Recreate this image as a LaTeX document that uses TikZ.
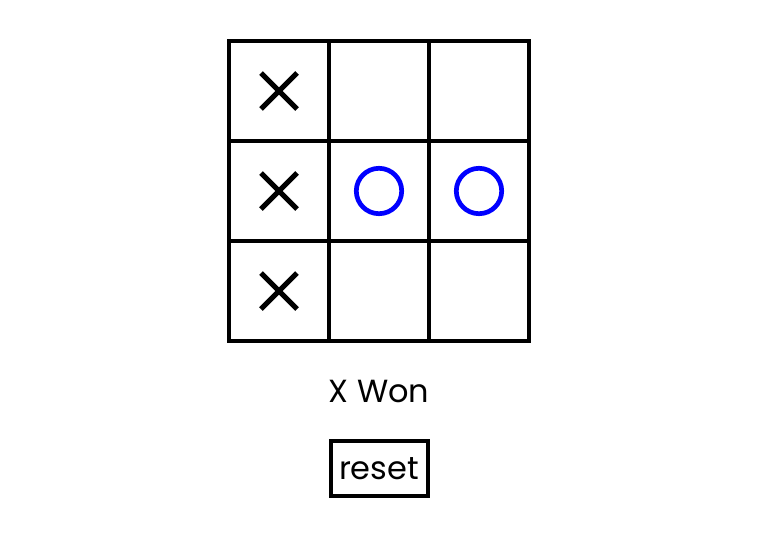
\documentclass[tikz,border=0pt]{standalone}
\usepackage{fontspec}
\setmainfont{Poppins}
\tikzset{
  cross/.style={line width=5pt},
  ring/.style={blue, line width=4.7pt},
}
\begin{document}
\begin{tikzpicture}[x=1pt, y=-1pt]
\useasboundingbox (0, 0) rectangle (758, 549);
\draw[line width=3.5pt] (229, 41) rectangle (529, 341);
\draw[line width=3.5pt] (329, 41) -- (329, 341);
\draw[line width=3.5pt] (429, 41) -- (429, 341);
\draw[line width=3.5pt] (229, 141) -- (529, 141);
\draw[line width=3.5pt] (229, 241) -- (529, 241);
\draw[cross] (261, 73) -- (297, 109) (297, 73) -- (261, 109);
\draw[cross] (261, 173) -- (297, 209) (297, 173) -- (261, 209);
\draw[cross] (261, 273) -- (297, 309) (297, 273) -- (261, 309);
\draw[ring] (379, 191) circle (22.7);
\draw[ring] (479, 191) circle (22.7);
\node[font=\fontsize{32}{36}\selectfont] (status) at (379, 391) {X Won};
\node[draw, line width=4pt, minimum width=97pt, minimum height=55pt, inner sep=0pt,
  font=\fontsize{32}{36}\selectfont] (reset) at (379, 468.5) {reset};
\end{tikzpicture}
\end{document}
